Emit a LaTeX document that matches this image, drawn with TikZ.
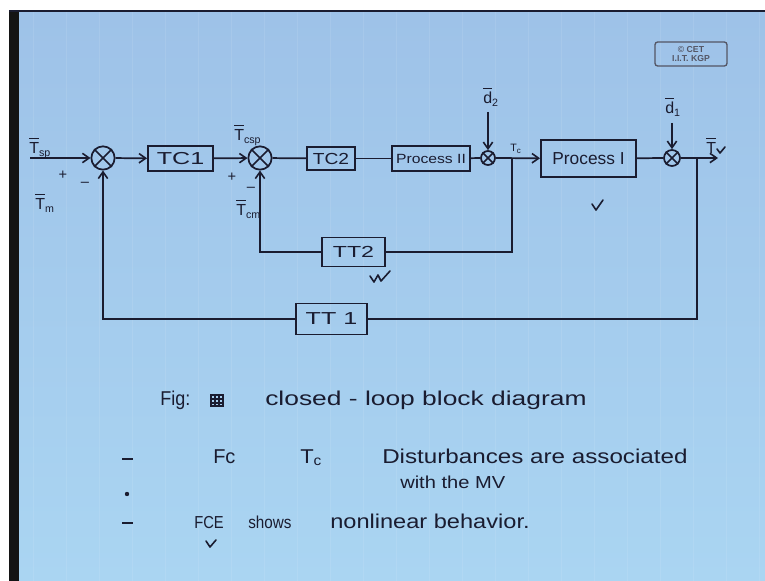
\documentclass[tikz,border=0pt]{standalone}
\usepackage{fontspec}
\usepackage{graphicx}
\setmainfont{Liberation Sans}
\usetikzlibrary{arrows.meta}
\definecolor{ink}{RGB}{26,28,48}
\definecolor{paperA}{RGB}{158,194,232}
\definecolor{paperB}{RGB}{170,213,242}
\newcommand{\hs}[2]{\scalebox{#1}[1]{#2}}
\newcommand{\barT}{$\overline{\raisebox{0pt}[1.3\height]{T}}$}
\newcommand{\bard}{$\overline{\raisebox{0pt}[1.2\height]{d}}$}
\begin{document}
\begin{tikzpicture}[x=0.75pt,y=-0.75pt,
  blockbox/.style={draw=ink,line width=1.4pt,inner sep=0pt,text=ink},
  sumjn/.style={circle,draw=ink,line width=1.3pt,inner sep=0pt},
  conn/.style={draw=ink,line width=1.3pt},
  arr/.style={conn,-{Straight Barb[length=5pt,width=7pt,line width=1.2pt]}},
  lbl/.style={text=ink,inner sep=0pt,font=\fontsize{11}{11}\selectfont},
  sig/.style={text=ink,inner sep=0pt,anchor=base west,font=\fontsize{12}{12}\selectfont},
  note/.style={text=ink,inner sep=0pt,anchor=base west,font=\fontsize{15}{15}\selectfont},
  tick/.style={draw=ink,line width=1.2pt,line cap=round,line join=round}
]
\useasboundingbox (0,0) rectangle (765,581);
% background
\fill[white] (0,0) rectangle (765,581);
\shade[top color=paperA,bottom color=paperB] (18,12) rectangle (765,581);
\draw[white,opacity=0.09,line width=0.5pt] (18,12) grid[step=33] (765,581);
\fill[black!92] (9,10) rectangle (19,581);
\fill[ink] (9,10) rectangle (765,12);

% logo
\node[draw=ink!75,rounded corners=2pt,line width=1pt,text=ink!75,align=center,
      inner sep=1pt,minimum width=54pt,minimum height=18pt,
      font=\bfseries\fontsize{6.5}{7}\selectfont] (logo) at (691,54) {© CET\\I.I.T. KGP};

% blocks
\node[blockbox,minimum width=48.75pt,minimum height=18.75pt,font=\fontsize{13}{13}\selectfont] (tc1) at (180.5,158.5) {\hs{1.45}{TC1}};
\node[blockbox,minimum width=36pt,minimum height=17.25pt,font=\fontsize{12}{12}\selectfont] (tc2) at (331,158.5) {\hs{1.2}{TC2}};
\node[blockbox,minimum width=58.5pt,minimum height=18.75pt,font=\fontsize{10}{10}\selectfont] (p2) at (431,158.5) {\hs{1.18}{Process II}};
\node[blockbox,minimum width=71.25pt,minimum height=27.75pt,font=\fontsize{13}{13}\selectfont] (p1) at (588.5,158.5) {Process I};
\node[blockbox,minimum width=47.25pt,minimum height=21.75pt,font=\fontsize{12}{12}\selectfont] (tt2) at (353.5,252) {\hs{1.45}{TT2}};
\node[blockbox,minimum width=53.25pt,minimum height=23.25pt,font=\fontsize{13}{13}\selectfont] (tt1) at (331.5,319) {\hs{1.45}{TT 1}};

% summing junctions
\node[sumjn,minimum size=17.5pt] (s1) at (103,158) {};
\node[sumjn,minimum size=17.5pt] (s2) at (260,158) {};
\node[sumjn,minimum size=10.5pt] (s3) at (488,158) {};
\node[sumjn,minimum size=12pt] (s4) at (672,158) {};
\foreach \s in {s1,s2,s3,s4}
  \draw[ink,line width=1.1pt] (\s.north west) -- (\s.south east) (\s.north east) -- (\s.south west);

% free ends and junction points
\coordinate (in) at (30,158);
\coordinate (out) at (718,158);
\coordinate (d2top) at (488,112);
\coordinate (d1top) at (672,123);
\coordinate (jc) at (512,158);
\coordinate (j1) at (697,158);

% connectors
\draw[arr] (in) -- (s1);
\draw[arr] (s1) -- (tc1);
\draw[arr] (tc1) -- (s2);
\draw[conn] (s2) -- (tc2);
\draw[conn] (tc2) -- (p2);
\draw[conn] (p2) -- (s3);
\draw[arr] (s3) -- (p1);
\draw[conn] (p1) -- (s4);
\draw[arr] (s4) -- (out);
\draw[arr] (d2top) -- (s3);
\draw[arr] (d1top) -- (s4);
\draw[conn] (jc) |- (tt2.east);
\draw[arr] (tt2.west) -| (s2.south);
\draw[conn] (j1) |- (tt1.east);
\draw[arr] (tt1.west) -| (s1.south);

% signal labels
\node[sig] (ltsp) at (29,154) {\barT\textsubscript{sp}};
\node[lbl] (plus1) at (63,175) {+};
\node[lbl] (minus1) at (85,184) {–};
\node[sig] (ltm) at (35,210) {\barT\textsubscript{m}};
\node[sig] (ltcsp) at (234,141) {\barT\textsubscript{csp}};
\node[lbl] (plus2) at (232,177) {+};
\node[lbl] (minus2) at (251,189) {–};
\node[sig] (ltcm) at (236,216) {\barT\textsubscript{cm}};
\node[sig] (ld2) at (483,104) {\bard\textsubscript{2}};
\node[sig] (ld1) at (665,114) {\bard\textsubscript{1}};
\node[sig,font=\fontsize{8}{8}\selectfont] (ltc) at (510,152) {T\textsubscript{c}};
\node[sig] (ltv) at (706,154) {\barT};

% check marks
\draw[tick] (717,149) -- (720,153) -- (725,147);
\draw[tick] (592,204) -- (596,210) -- (603,200);
\draw[tick] (370,276) -- (374,282) -- (378,275) -- (381,281) -- (390,271);
\draw[tick] (206,541) -- (210,547) -- (216,540);

% notes
\node[note] (nfig) at (160,406) {\hs{0.9}{Fig:}};
\draw[ink,line width=0.8pt] (211,395) rectangle (223,406)
      (211,399) -- (223,399) (211,403) -- (223,403) (215,395) -- (215,406) (219,395) -- (219,406);
\node[note] (ncl) at (265,406) {\hs{1.32}{closed - loop block diagram}};
\draw[ink,line width=2.2pt] (122,459) -- (133,459);
\node[note] (nfc) at (213,463) {Fc};
\node[note] (ntc) at (300,463) {\hs{1.1}{T\textsubscript{c}}};
\node[note] (ndist) at (382,463) {\hs{1.21}{Disturbances are associated}};
\node[note,font=\fontsize{13}{13}\selectfont] (nmv) at (400,488) {\hs{1.16}{with the MV}};
\fill[ink] (127,494) circle (2.2);
\draw[ink,line width=2.2pt] (122,523) -- (133,523);
\node[note,font=\fontsize{13}{13}\selectfont] (nfce) at (194,528) {\hs{0.85}{FCE}};
\node[note,font=\fontsize{13}{13}\selectfont] (nshows) at (248,528) {\hs{0.88}{shows}};
\node[note] (nnon) at (330,528) {\hs{1.18}{nonlinear behavior.}};
\end{tikzpicture}
\end{document}
